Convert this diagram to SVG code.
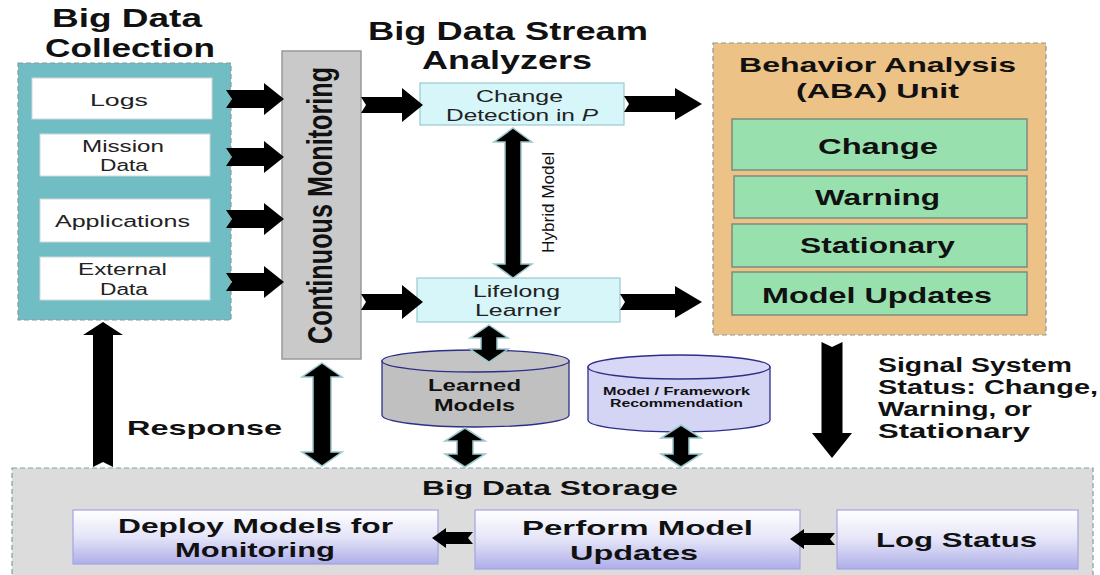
<svg xmlns="http://www.w3.org/2000/svg" width="1100" height="575" viewBox="0 0 1100 575">
<defs>
<linearGradient id="lav" x1="0" y1="0" x2="0" y2="1">
<stop offset="0" stop-color="#ffffff"/>
<stop offset="0.5" stop-color="#e4e4f8"/>
<stop offset="1" stop-color="#aeaee8"/>
</linearGradient>
<style>
text{font-family:"Liberation Sans",Arial,sans-serif;fill:#111}
.b{font-weight:bold}
.ttl{font-weight:bold;font-size:25px}
.item{font-size:16px;fill:#222}
.aba{font-weight:bold;font-size:22px}
.wbox{fill:#ffffff;stroke:#cfd8d8;stroke-width:1}
.cyan{fill:#d6f6fa;stroke:#9cc9cf;stroke-width:1.2}
.green{fill:#98e1ae;stroke:#7d8a80;stroke-width:1.5}
.lav{fill:url(#lav);stroke:#a4a4e4;stroke-width:1.2}
.arr{fill:#000}
.darr{fill:#000;stroke:#9cc8cc;stroke-width:1.5}
.dash{stroke-dasharray:5 3;stroke-width:1.2}
</style>
</defs>
<rect width="1100" height="575" fill="#ffffff"/>

<g id="collection">
<text class="ttl" x="52" y="27" textLength="150" lengthAdjust="spacingAndGlyphs">Big Data</text>
<text class="ttl" x="45" y="57" textLength="170" lengthAdjust="spacingAndGlyphs">Collection</text>
<rect x="18" y="63" width="213" height="257" fill="#70bec4" stroke="#8a9a9a" class="dash"/>
<g id="logs"><rect class="wbox" x="32" y="78" width="180" height="41"/>
<text class="item" x="90" y="106" textLength="58" lengthAdjust="spacingAndGlyphs">Logs</text></g>
<g id="mission"><rect class="wbox" x="40" y="134" width="170" height="42"/>
<text class="item" x="82" y="152" textLength="82" lengthAdjust="spacingAndGlyphs">Mission</text>
<text class="item" x="100" y="171" textLength="48" lengthAdjust="spacingAndGlyphs">Data</text></g>
<g id="applications"><rect class="wbox" x="40" y="199" width="170" height="43"/>
<text class="item" x="55" y="227" textLength="135" lengthAdjust="spacingAndGlyphs">Applications</text></g>
<g id="external"><rect class="wbox" x="40" y="257" width="170" height="43"/>
<text class="item" x="78" y="275" textLength="89" lengthAdjust="spacingAndGlyphs">External</text>
<text class="item" x="100" y="295" textLength="48" lengthAdjust="spacingAndGlyphs">Data</text></g>
</g>

<g id="monitoring">
<rect x="282" y="51" width="79" height="308" fill="#c9c9c9" stroke="#999" stroke-width="1.5"/>
<text class="b" font-size="35" transform="translate(332,344) rotate(-90) scale(0.72,1)">Continuous Monitoring</text>
</g>

<g id="analyzers">
<text class="ttl" x="368" y="40" textLength="280" lengthAdjust="spacingAndGlyphs">Big Data Stream</text>
<text class="ttl" x="422" y="69" textLength="170" lengthAdjust="spacingAndGlyphs">Analyzers</text>
</g>
<g id="change-detection">
<rect class="cyan" x="420" y="83" width="204" height="42"/>
<text class="item" x="476" y="102" textLength="87" lengthAdjust="spacingAndGlyphs">Change</text>
<text class="item" x="446" y="121" textLength="152" lengthAdjust="spacingAndGlyphs">Detection in <tspan font-style="italic">P</tspan></text>
</g>
<g id="lifelong">
<rect class="cyan" x="417" y="278" width="203" height="44"/>
<text class="item" x="473" y="297" textLength="87" lengthAdjust="spacingAndGlyphs">Lifelong</text>
<text class="item" x="475" y="316" textLength="86" lengthAdjust="spacingAndGlyphs">Learner</text>
</g>

<g id="aba">
<rect x="713" y="43" width="333" height="292" fill="#ecc286" stroke="#8a9a9a" class="dash"/>
<text class="b" font-size="21" x="739" y="72" textLength="277" lengthAdjust="spacingAndGlyphs">Behavior Analysis</text>
<text class="b" font-size="21" x="796" y="98" textLength="163" lengthAdjust="spacingAndGlyphs">(ABA) Unit</text>
<g id="aba-change"><rect class="green" x="732" y="119" width="295" height="51"/>
<text class="aba" x="818" y="154" textLength="120" lengthAdjust="spacingAndGlyphs">Change</text></g>
<g id="aba-warning"><rect class="green" x="734" y="176" width="293" height="42"/>
<text class="aba" x="815" y="205" textLength="125" lengthAdjust="spacingAndGlyphs">Warning</text></g>
<g id="aba-stationary"><rect class="green" x="732" y="224" width="295" height="43"/>
<text class="aba" x="800" y="253" textLength="155" lengthAdjust="spacingAndGlyphs">Stationary</text></g>
<g id="aba-updates"><rect class="green" x="732" y="272" width="295" height="43"/>
<text class="aba" x="762" y="303" textLength="230" lengthAdjust="spacingAndGlyphs">Model Updates</text></g>
</g>

<g id="learned-models">
<path d="M382,361 L382,415 A93.5,12 0 0 0 569,415 L569,361 Z" fill="#c0c0c0" stroke="#2e2e8a" stroke-width="1.3"/>
<ellipse cx="475.5" cy="361" rx="93.5" ry="11" fill="#c4c4c4" stroke="#2e2e8a" stroke-width="1.3"/>
<text class="b" font-size="17" x="428" y="391" textLength="93" lengthAdjust="spacingAndGlyphs">Learned</text>
<text class="b" font-size="17" x="434" y="411" textLength="81" lengthAdjust="spacingAndGlyphs">Models</text>
</g>
<g id="framework">
<path d="M588,367 L588,420 A91,12 0 0 0 770,420 L770,367 Z" fill="#d4d4f4" stroke="#2e2e8a" stroke-width="1.3"/>
<ellipse cx="679" cy="367" rx="91" ry="12" fill="#d8d8f6" stroke="#2e2e8a" stroke-width="1.3"/>
<text class="b" font-size="11" x="603" y="395" textLength="147" lengthAdjust="spacingAndGlyphs">Model / Framework</text>
<text class="b" font-size="11" x="610" y="407" textLength="133" lengthAdjust="spacingAndGlyphs">Recommendation</text>
</g>

<g id="signal-label">
<text class="b" font-size="20" x="878" y="372" textLength="194" lengthAdjust="spacingAndGlyphs">Signal System</text>
<text class="b" font-size="20" x="878" y="394" textLength="220" lengthAdjust="spacingAndGlyphs">Status: Change,</text>
<text class="b" font-size="20" x="878" y="416" textLength="154" lengthAdjust="spacingAndGlyphs">Warning, or</text>
<text class="b" font-size="20" x="878" y="438" textLength="152" lengthAdjust="spacingAndGlyphs">Stationary</text>
</g>
<g id="response-label">
<text class="b" font-size="21" x="127" y="435" textLength="155" lengthAdjust="spacingAndGlyphs">Response</text>
</g>

<g id="storage">
<rect x="12" y="468" width="1081" height="120" fill="#dcdcdc" stroke="#7fa0a0" class="dash"/>
<text class="b" font-size="21" x="422" y="495" textLength="256" lengthAdjust="spacingAndGlyphs">Big Data Storage</text>
<g id="deploy"><rect class="lav" x="73" y="510" width="365" height="54"/>
<text class="b" font-size="21" x="118" y="533" textLength="275" lengthAdjust="spacingAndGlyphs">Deploy Models for</text>
<text class="b" font-size="21" x="175" y="557" textLength="160" lengthAdjust="spacingAndGlyphs">Monitoring</text></g>
<g id="perform"><rect class="lav" x="475" y="510" width="325" height="59"/>
<text class="b" font-size="21" x="522" y="535" textLength="231" lengthAdjust="spacingAndGlyphs">Perform Model</text>
<text class="b" font-size="21" x="570" y="560" textLength="128" lengthAdjust="spacingAndGlyphs">Updates</text></g>
<g id="logstatus"><rect class="lav" x="837" y="510" width="241" height="59"/>
<text class="b" font-size="21" x="876" y="547" textLength="161" lengthAdjust="spacingAndGlyphs">Log Status</text></g>
</g>

<g id="connectors">
<polygon class="arr" points="226,90 264,90 264,83 284,99 264,115 264,108 226,108 232,99"/>
<polygon class="arr" points="226,148 264,148 264,141 284,157 264,173 264,166 226,166 232,157"/>
<polygon class="arr" points="226,210 264,210 264,203 284,219 264,235 264,228 226,228 232,219"/>
<polygon class="arr" points="226,273 264,273 264,266 284,282 264,298 264,291 226,291 232,282"/>
<polygon class="arr" points="361,97 402,97 402,88 423,105 402,122 402,113 361,113 366,105"/>
<polygon class="arr" points="361,294 402,294 402,285 423,302 402,319 402,310 361,310 366,302"/>
<polygon class="arr" points="624,96 675,96 675,88 702,104 675,120 675,112 624,112 629,104"/>
<polygon class="arr" points="620,294 675,294 675,286 702,302 675,318 675,310 620,310 625,302"/>
<polygon class="darr" points="513,128 532,142 521,142 521,264 532,264 513,278 494,264 505,264 505,142 494,142"/>
<text font-size="17" transform="translate(554,253) rotate(-90)" textLength="101" lengthAdjust="spacingAndGlyphs">Hybrid Model</text>
<polygon class="darr" points="489,325 508,338 497,338 497,349 508,349 489,362 470,349 481,349 481,338 470,338"/>
<polygon class="darr" points="322,363 342,377 331,377 331,452 342,452 322,466 302,452 313,452 313,377 302,377"/>
<polygon class="darr" points="465,428 485,441 473,441 473,454 485,454 465,467 445,454 457,454 457,441 445,441"/>
<polygon class="darr" points="681,425 701,438 689,438 689,454 701,454 681,467 661,454 673,454 673,438 661,438"/>
<polygon class="arr" points="103,322 123,335 113,335 113,467 103,462 93,467 93,335 83,335"/>
<polygon class="arr" points="821.5,342 832,347 842.5,342 842.5,433 852,433 832,458 812,433 821.5,433"/>
<polygon class="arr" points="473,532 446,532 446,528 432,538 446,548 446,544 473,544 468,538"/>
<polygon class="arr" points="835,533 804,533 804,529 790,539 804,549 804,545 835,545 830,539"/>
</g>
</svg>
